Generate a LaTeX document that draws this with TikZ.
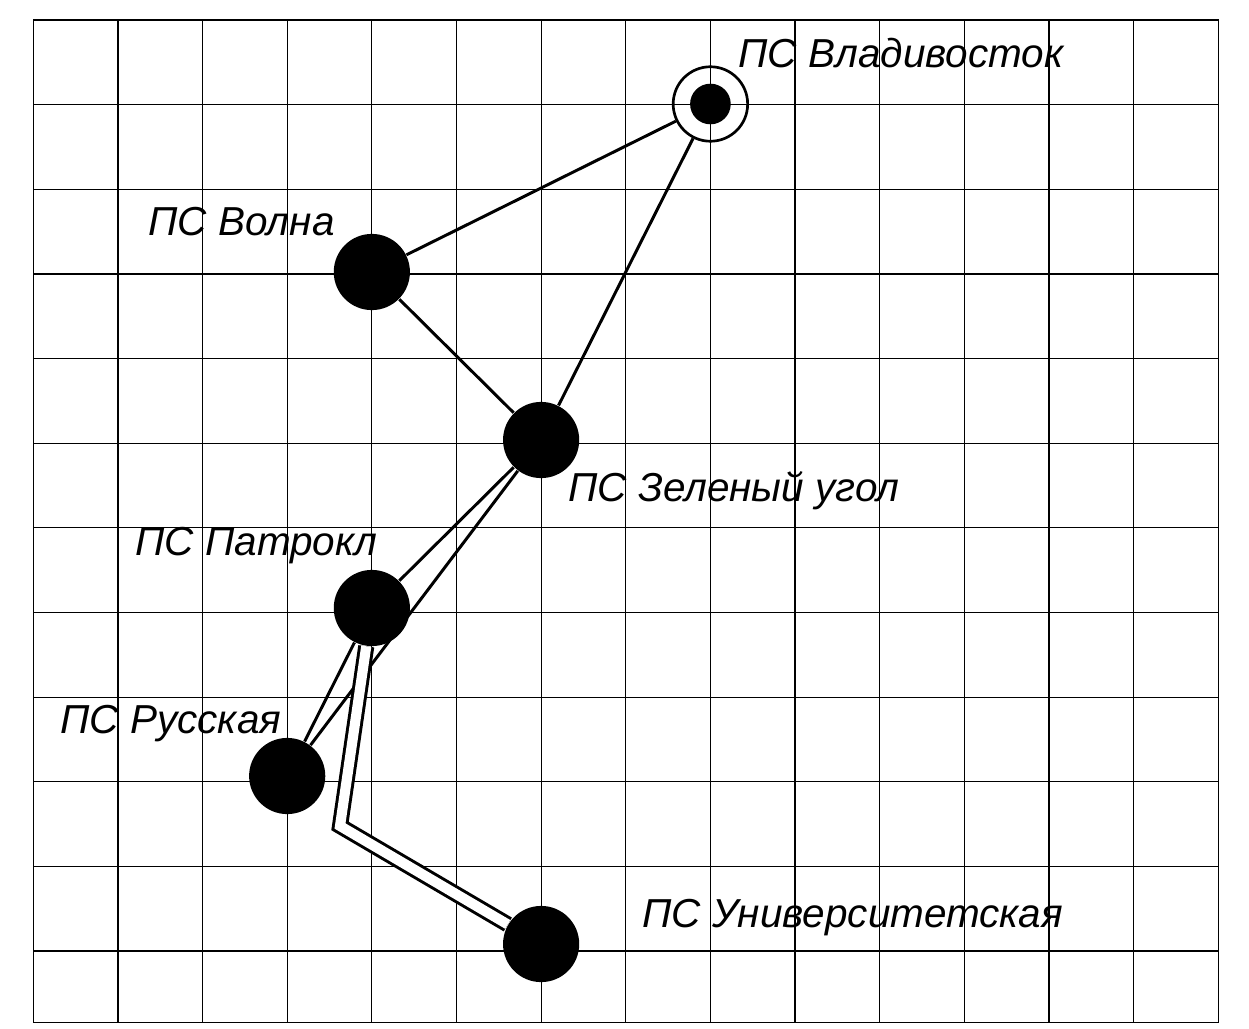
\documentclass[tikz,border=0pt]{standalone}
\usepackage{fontspec}
\setmainfont{Liberation Sans}
\begin{document}
\begin{tikzpicture}[
  x=1cm, y=0.9924cm,
  grid line/.style={line width=0.4pt},
  station/.style={circle,fill,inner sep=0pt,minimum size=0.9cm},
  ring/.style={circle,draw,line width=0.9pt,inner sep=0pt,minimum size=0.88cm},
  core/.style={circle,fill,inner sep=0pt,minimum size=0.48cm},
  link/.style={line width=1pt},
  cable/.style={line width=1pt,double=white,double distance=3.4pt},
  stname/.style={anchor=base west,inner sep=0pt,font=\itshape\fontsize{13.6}{16}\selectfont}
]
\useasboundingbox (-0.393,0.238) rectangle (14.363,-12);
\draw[grid line] (0,0) grid (14,-11.93);
\draw[grid line] (0,0) rectangle (14,-11.93);

\node[ring] (vlad) at (8,-1) {};
\node[core] (vlad-core) at (vlad) {};
\node[station] (volna) at (4,-3) {};
\node[station] (zel) at (6,-5) {};
\node[station] (patr) at (4,-7) {};
\node[station] (russ) at (3,-9) {};
\node[station] (univ) at (6,-11) {};
\coordinate (bend) at (3.624,-9.595);

\draw[link] (vlad) -- (volna);
\draw[link] (vlad) -- (zel);
\draw[link] (volna) -- (zel);
\draw[link] (zel) -- (patr);
\draw[link] (zel) -- (russ);
\draw[link] (patr) -- (russ);
\draw[cable] (patr) -- (bend) -- (univ);

\node[stname] (vlad-name) at (8.326,-0.56) {ПС Владивосток};
\node[stname] (volna-name) at (1.355,-2.568) {ПС Волна};
\node[stname] (zel-name) at (6.317,-5.738) {ПС Зеленый угол};
\node[stname] (patr-name) at (1.202,-6.377) {ПС Патрокл};
\node[stname] (russ-name) at (0.315,-8.488) {ПС Русская};
\node[stname] (univ-name) at (7.192,-10.798) {ПС Университетская};
\end{tikzpicture}
\end{document}
